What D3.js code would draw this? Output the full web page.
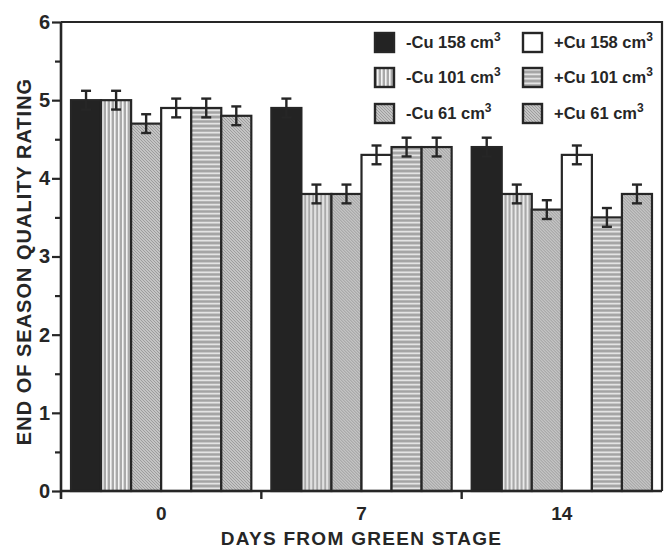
<!DOCTYPE html>
<html>
<head>
<meta charset="utf-8">
<script src="https://cdn.jsdelivr.net/npm/d3@7"></script>
<style>
  body { margin: 0; background: #fff; }
  svg { display: block; font-family: "Liberation Sans", Arial, sans-serif; }
</style>
</head>
<body>
<div id="chart"></div>
<script>
const days = ['0', '7', '14'];
const series = ['-Cu 158', '-Cu 101', '-Cu 61', '+Cu 158', '+Cu 101', '+Cu 61'];
const patterns = ['solid', 'vstripe', 'hatch', 'white', 'hstripe', 'hatch'];
// rating per series, one entry per day
const values = {
  '-Cu 158': [5.0, 4.9, 4.4],
  '-Cu 101': [5.0, 3.8, 3.8],
  '-Cu 61':  [4.7, 3.8, 3.6],
  '+Cu 158': [4.9, 4.3, 4.3],
  '+Cu 101': [4.9, 4.4, 3.5],
  '+Cu 61':  [4.8, 4.4, 3.8]
};
const errs = [0.12, 0.12, 0.12];
const yTicks = [0, 1, 2, 3, 4, 5, 6];
const yMinor = [0.5, 1.5, 2.5, 3.5, 4.5, 5.5];
// legend: left column -Cu, right column +Cu
const legendOrder = [['-Cu 158', '+Cu 158'], ['-Cu 101', '+Cu 101'], ['-Cu 61', '+Cu 61']];

const W = 665, H = 550;
const pL = 61, pR = 662, pT = 22, pB = 491;
const ink = '#262626';

const svg = d3.select('#chart').append('svg')
  .attr('width', W).attr('height', H);

const defs = svg.append('defs');
const vs = defs.append('pattern').attr('id', 'vstripe')
  .attr('patternUnits', 'userSpaceOnUse').attr('width', 4).attr('height', 4);
vs.append('rect').attr('width', 4).attr('height', 4).attr('fill', '#a9a9a9');
vs.append('rect').attr('x', 1).attr('width', 1.6).attr('height', 4).attr('fill', '#f4f4f4');

const hs = defs.append('pattern').attr('id', 'hstripe')
  .attr('patternUnits', 'userSpaceOnUse').attr('width', 4).attr('height', 4.5);
hs.append('rect').attr('width', 4).attr('height', 4.5).attr('fill', '#a4a4a4');
hs.append('rect').attr('y', 1.5).attr('width', 4).attr('height', 1.5).attr('fill', '#f2f2f2');

const ht = defs.append('pattern').attr('id', 'hatch')
  .attr('patternUnits', 'userSpaceOnUse').attr('width', 3).attr('height', 3);
ht.append('rect').attr('width', 3).attr('height', 3).attr('fill', '#c4c4c4');
ht.append('path').attr('d', 'M0,0L3,3').attr('stroke', '#989898').attr('stroke-width', 0.9);

const fillFor = p => p === 'solid' ? '#232323'
  : p === 'white' ? '#ffffff' : `url(#${p})`;

const x0 = d3.scaleBand().domain(days).range([pL, pR]);
const x1 = d3.scaleBand().domain(series).range([0, x0.bandwidth()]).paddingOuter(1 / 3);
const y = d3.scaleLinear().domain([0, 6]).range([pB, pT]);

// bars
const groups = svg.selectAll('.day').data(days).enter().append('g')
  .attr('transform', d => `translate(${x0(d)},0)`);

groups.each(function(day, di) {
  const g = d3.select(this);
  series.forEach((s, si) => {
    const v = values[s][di];
    g.append('rect')
      .attr('x', x1(s))
      .attr('y', y(v))
      .attr('width', x1.bandwidth())
      .attr('height', y(0) - y(v))
      .attr('fill', fillFor(patterns[si]))
      .attr('stroke', ink)
      .attr('stroke-width', 2.2);
  });
  series.forEach(s => {
    const v = values[s][di];
    const cx = x1(s) + x1.bandwidth() / 2;
    const e = errs[di];
    const eb = g.append('g').attr('stroke', ink).attr('stroke-width', 2.4);
    eb.append('line').attr('x1', cx).attr('x2', cx).attr('y1', y(v + e)).attr('y2', y(v - e));
    eb.append('line').attr('x1', cx - 5).attr('x2', cx + 5).attr('y1', y(v + e)).attr('y2', y(v + e));
    eb.append('line').attr('x1', cx - 5).attr('x2', cx + 5).attr('y1', y(v - e)).attr('y2', y(v - e));
  });
});

// frame top and right
svg.append('path')
  .attr('d', `M${pL},${pT}H${pR}V${pB}`)
  .attr('fill', 'none').attr('stroke', ink).attr('stroke-width', 2.2);

// y axis
const yAxis = svg.append('g').attr('transform', `translate(${pL},0)`)
  .call(d3.axisLeft(y).tickValues(yTicks).tickFormat(d3.format('d')).tickSize(9).tickPadding(2));
svg.append('g').attr('transform', `translate(${pL},0)`)
  .call(d3.axisLeft(y).tickValues(yMinor).tickFormat('').tickSize(6))
  .call(g => g.select('.domain').remove());
svg.selectAll('.tick line').attr('stroke', ink).attr('stroke-width', 2.2);
yAxis.select('.domain').attr('stroke', ink).attr('stroke-width', 2.6)
  .attr('d', `M0,${pT}V${pB + 8}`);
yAxis.selectAll('text')
  .attr('font-size', 20).attr('font-weight', 'bold').attr('fill', ink);

// x axis
const xg = svg.append('g').attr('transform', `translate(0,${pB})`);
xg.append('line').attr('x1', pL).attr('x2', pR).attr('stroke', ink).attr('stroke-width', 2.6);
xg.selectAll('.sep').data(days.slice(1)).enter().append('line')
  .attr('x1', d => x0(d)).attr('x2', d => x0(d))
  .attr('y1', 0).attr('y2', 8)
  .attr('stroke', ink).attr('stroke-width', 2.4);
xg.selectAll('.lbl').data(days).enter().append('text')
  .attr('x', d => x0(d) + x0.bandwidth() / 2)
  .attr('y', 29)
  .attr('text-anchor', 'middle')
  .attr('font-size', 19).attr('font-weight', 'bold').attr('fill', ink)
  .text(d => d);

// axis titles
svg.append('text')
  .attr('x', (pL + pR) / 2)
  .attr('y', 545)
  .attr('text-anchor', 'middle')
  .attr('font-size', 19).attr('font-weight', 'bold').attr('fill', ink)
  .attr('letter-spacing', 1.3)
  .text('DAYS FROM GREEN STAGE');

svg.append('text')
  .attr('transform', `translate(31,${(pT + pB) / 2 + 5}) rotate(-90)`)
  .attr('text-anchor', 'middle')
  .attr('font-size', 20).attr('font-weight', 'bold').attr('fill', ink)
  .attr('letter-spacing', 1)
  .text('END OF SEASON QUALITY RATING');

// legend
const lg = svg.append('g');
const colX = [375, 523];
const rowY = [42, 77, 113];
legendOrder.forEach((row, ri) => {
  row.forEach((s, ci) => {
    const si = series.indexOf(s);
    lg.append('rect')
      .attr('x', colX[ci]).attr('y', rowY[ri] - 9)
      .attr('width', 19).attr('height', 19)
      .attr('fill', fillFor(patterns[si]))
      .attr('stroke', ink).attr('stroke-width', 2.4);
    const t = lg.append('text')
      .attr('x', colX[ci] + 31).attr('y', rowY[ri] + 6)
      .attr('font-size', 16.5).attr('font-weight', 'bold').attr('fill', ink);
    t.append('tspan').text(`${s} cm`);
    t.append('tspan').attr('font-size', 12).attr('dy', -7).text('3');
  });
});
</script>
</body>
</html>
